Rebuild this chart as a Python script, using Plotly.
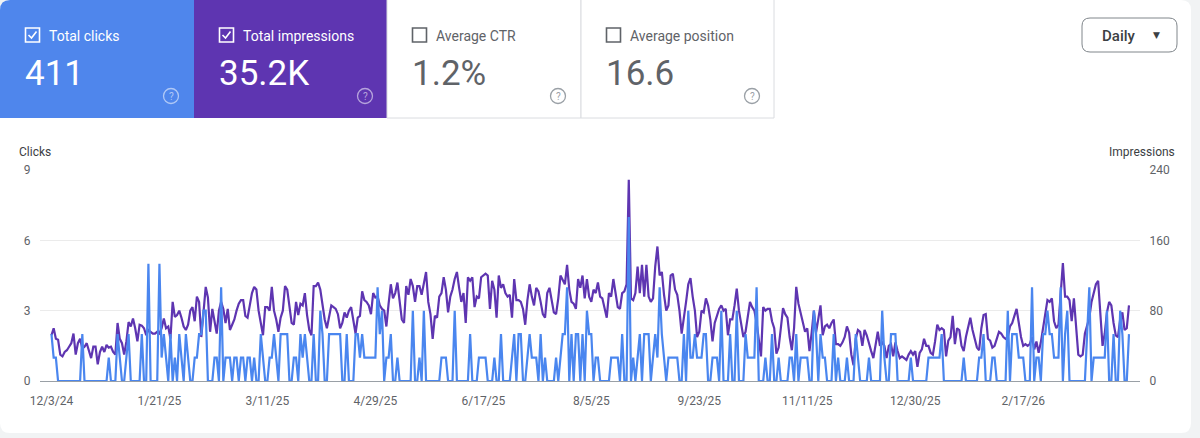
import plotly.graph_objects as go
import pandas as pd

# ---------------- data (daily, starting 12/3/24) ----------------
impressions = [
    52, 60, 48, 47, 30, 28, 33, 35, 39, 43, 54, 30, 43, 48, 37, 39, 43, 35, 26, 39, 39, 19, 33, 39, 33,
    41, 38, 39, 33, 30, 66, 48, 43, 30, 45, 67, 62, 71, 60, 45, 64, 63, 60, 52, 58, 56, 54, 54, 56,
    54, 60, 71, 60, 62, 48, 90, 73, 75, 80, 72, 62, 58, 64, 80, 84, 68, 96, 90, 50, 78, 107, 95, 56, 82,
    70, 54, 80, 90, 82, 66, 82, 58, 64, 70, 80, 88, 92, 92, 74, 72, 86, 100, 107, 104, 80, 64, 52, 84,
    84, 80, 107, 80, 70, 56, 72, 80, 108, 104, 86, 66, 64, 90, 75, 88, 86, 100, 75, 58, 52, 108, 108, 112, 104,
    84, 70, 60, 72, 86, 84, 82, 76, 60, 66, 78, 72, 80, 84, 66, 54, 72, 74, 102, 92, 90, 86, 76, 100,
    95, 96, 86, 82, 80, 62, 88, 110, 94, 100, 112, 88, 70, 66, 108, 98, 116, 108, 90, 108, 108, 98, 110, 124, 90,
    76, 48, 74, 72, 96, 100, 118, 104, 78, 96, 104, 116, 124, 106, 90, 100, 66, 118, 114, 118, 84, 96, 94, 118,
    120, 122, 120, 82, 114, 104, 72, 120, 106, 110, 100, 96, 98, 72, 116, 92, 92, 90, 82, 64, 92, 110, 96, 86, 106,
    102, 90, 76, 72, 100, 106, 92, 78, 76, 94, 120, 114, 110, 132, 104, 90, 88, 82, 116, 106, 120, 94, 116, 96,
    90, 104, 100, 112, 96, 94, 82, 72, 100, 96, 116, 102, 84, 82, 100, 102, 110, 229, 94, 92, 100, 130, 100, 132, 96,
    132, 96, 90, 94, 130, 153, 120, 124, 98, 80, 86, 120, 122, 104, 98, 80, 54, 70, 90, 110, 117, 96, 80, 50,
    56, 80, 78, 94, 86, 70, 45, 66, 74, 82, 86, 80, 82, 52, 70, 70, 86, 105, 80, 64, 50, 56, 72, 90, 84,
    80, 66, 46, 28, 84, 80, 82, 82, 68, 60, 31, 38, 60, 83, 76, 72, 50, 35, 60, 107, 88, 78, 66, 56,
    60, 34, 55, 80, 55, 70, 86, 52, 62, 64, 60, 66, 70, 42, 42, 40, 44, 50, 62, 55, 30, 18, 48, 58, 56,
    40, 58, 52, 42, 34, 26, 40, 56, 40, 44, 40, 26, 40, 42, 28, 44, 34, 26, 28, 26, 24, 30, 34, 30,
    34, 16, 32, 36, 48, 40, 40, 32, 30, 45, 64, 58, 60, 58, 28, 46, 50, 74, 42, 60, 58, 40, 34, 50, 60,
    72, 58, 46, 38, 35, 60, 75, 76, 48, 46, 38, 40, 48, 56, 54, 50, 48, 50, 62, 66, 74, 82, 66, 50,
    40, 42, 40, 42, 50, 36, 45, 32, 44, 60, 80, 92, 90, 94, 68, 60, 64, 96, 134, 96, 96, 92, 68, 94, 62,
    30, 28, 30, 54, 64, 72, 90, 100, 110, 114, 78, 40, 54, 78, 90, 86, 66, 52, 50, 70, 78, 58, 60, 86,
]

clicks = [
    2, 1, 1, 0, 0, 0, 0, 0, 0, 0, 0, 0, 0, 0, 2, 0, 0, 0, 0, 0, 0, 0, 0, 0, 0,
    0, 1, 0, 0, 0, 2, 1, 0, 0, 1, 2, 0, 0, 0, 0, 0, 2, 0, 0, 5, 0, 0, 0, 0,
    5, 1, 2, 1, 0, 2, 0, 1, 0, 2, 1, 0, 2, 1, 0, 0, 1, 1, 2, 2, 3, 3, 0, 0, 0,
    1, 1, 0, 4, 0, 1, 1, 1, 0, 1, 1, 0, 1, 1, 0, 1, 1, 0, 1, 0, 0, 2, 1, 0,
    0, 1, 1, 2, 1, 0, 2, 2, 2, 2, 0, 0, 1, 1, 0, 2, 1, 2, 1, 0, 0, 2, 0, 0, 3,
    2, 0, 0, 2, 2, 2, 2, 2, 2, 0, 0, 2, 0, 0, 0, 2, 2, 1, 2, 1, 1, 1, 1, 1,
    1, 4, 2, 3, 0, 1, 1, 2, 0, 0, 1, 0, 0, 0, 0, 0, 0, 3, 0, 0, 1, 0, 3, 0, 0,
    0, 0, 0, 0, 0, 1, 1, 1, 0, 0, 0, 3, 0, 0, 0, 0, 0, 0, 2, 0, 0, 0, 1, 1,
    1, 1, 0, 0, 0, 1, 0, 0, 2, 0, 0, 0, 0, 1, 2, 0, 2, 2, 0, 0, 1, 2, 1, 1, 1,
    0, 2, 0, 1, 0, 0, 0, 0, 1, 0, 1, 2, 2, 4, 0, 2, 0, 2, 2, 0, 2, 0, 3, 2,
    2, 0, 1, 1, 0, 0, 0, 0, 0, 1, 1, 1, 1, 0, 2, 0, 0, 7, 0, 1, 0, 1, 2, 0, 2,
    2, 2, 0, 1, 2, 1, 4, 2, 1, 0, 1, 1, 1, 1, 1, 0, 0, 2, 0, 3, 1, 1, 2, 1,
    1, 1, 2, 2, 0, 0, 1, 1, 1, 0, 3, 0, 0, 0, 2, 0, 0, 3, 0, 0, 0, 2, 1, 1, 1,
    1, 4, 0, 0, 0, 1, 0, 0, 2, 0, 0, 1, 0, 0, 0, 0, 1, 1, 0, 2, 0, 1, 1, 1,
    1, 0, 0, 3, 2, 0, 2, 1, 1, 0, 0, 0, 2, 0, 1, 0, 0, 0, 1, 0, 0, 0, 2, 1, 0,
    0, 0, 0, 1, 0, 0, 0, 0, 0, 3, 1, 0, 0, 2, 2, 2, 0, 0, 0, 0, 0, 0, 1, 0,
    0, 0, 0, 0, 0, 0, 1, 1, 1, 1, 1, 1, 2, 0, 0, 0, 0, 0, 0, 0, 0, 0, 1, 0, 0,
    0, 0, 0, 0, 1, 1, 2, 0, 0, 0, 1, 1, 0, 0, 0, 0, 0, 3, 0, 2, 2, 2, 1, 1,
    1, 0, 0, 0, 4, 0, 1, 1, 0, 2, 2, 3, 2, 2, 1, 1, 1, 4, 0, 2, 3, 0, 0, 0, 0,
    0, 0, 0, 0, 2, 4, 0, 1, 1, 1, 1, 1, 1, 3, 0, 0, 2, 0, 0, 3, 2, 0, 0, 2,
]

start_date = "2024-12-03"
tick_labels = ["12/3/24", "1/21/25", "3/11/25", "4/29/25", "6/17/25",
               "8/5/25", "9/23/25", "11/11/25", "12/30/25", "2/17/26"]

card_titles = ["Total clicks", "Total impressions", "Average CTR", "Average position"]
card_values = ["411", "35.2K", "1.2%", "16.6"]
card_checked = [True, True, False, False]

# ---------------- colours ----------------
BLUE = "#4a86ef"
PURPLE = "#5e35b1"
CARD_BLUE = "#4f86ec"
GRAY_TXT = "#5f6368"
FONT = "Roboto"

dates = pd.date_range(start_date, periods=len(clicks), freq="D")
tick_dates = pd.to_datetime(tick_labels, format="%m/%d/%y")

# ---------------- pixel -> paper helpers ----------------
W, H = 1200, 438
L, R, T, B = 40, 1140, 170, 381


def px(x):
    return (x - L) / (R - L)


def py(y):
    return (B - y) / (B - T)


def rrect_path(x0, y0, x1, y1, r, corners=(True, True, True, True)):
    # corners: tl, tr, br, bl
    tl, tr, br, bl = corners
    p = []
    p.append(f"M {px(x0 + (r if tl else 0))},{py(y0)}")
    p.append(f"L {px(x1 - (r if tr else 0))},{py(y0)}")
    if tr:
        p.append(f"Q {px(x1)},{py(y0)} {px(x1)},{py(y0 + r)}")
    p.append(f"L {px(x1)},{py(y1 - (r if br else 0))}")
    if br:
        p.append(f"Q {px(x1)},{py(y1)} {px(x1 - r)},{py(y1)}")
    p.append(f"L {px(x0 + (r if bl else 0))},{py(y1)}")
    if bl:
        p.append(f"Q {px(x0)},{py(y1)} {px(x0)},{py(y1 - r)}")
    p.append(f"L {px(x0)},{py(y0 + (r if tl else 0))}")
    if tl:
        p.append(f"Q {px(x0)},{py(y0)} {px(x0 + r)},{py(y0)}")
    p.append("Z")
    return " ".join(p)


fig = go.Figure()

fig.add_trace(go.Scatter(
    x=dates, y=impressions, mode="lines", name="Impressions",
    line=dict(color=PURPLE, width=2.2), yaxis="y", hoverinfo="skip"))
fig.add_trace(go.Scatter(
    x=dates, y=clicks, mode="lines", name="Clicks",
    line=dict(color=BLUE, width=2.2), yaxis="y2", hoverinfo="skip"))

shapes = []
annotations = []

# panel
shapes.append(dict(type="path", xref="paper", yref="paper", layer="below",
                   path=rrect_path(0, 0, 1191, 433, 10),
                   fillcolor="white", line=dict(width=0)))

# cards
card_x = [0, 194, 387, 581, 774]
shapes.append(dict(type="path", xref="paper", yref="paper", layer="below",
                   path=rrect_path(0, 0, 194, 118, 10, (True, False, False, False)),
                   fillcolor=CARD_BLUE, line=dict(width=0)))
shapes.append(dict(type="rect", xref="paper", yref="paper", layer="below",
                   x0=px(194), x1=px(387), y0=py(0), y1=py(118),
                   fillcolor=PURPLE, line=dict(width=0)))
for i in (2, 3):
    shapes.append(dict(type="rect", xref="paper", yref="paper", layer="below",
                       x0=px(card_x[i]), x1=px(card_x[i + 1]), y0=py(-2), y1=py(118),
                       fillcolor="white", line=dict(color="#dadce0", width=1)))

for i in range(4):
    x0 = card_x[i]
    on_color = i < 2
    txt_col = "white" if on_color else GRAY_TXT
    box_col = "white" if on_color else "#5f6368"
    # checkbox
    shapes.append(dict(type="rect", xref="paper", yref="paper",
                       x0=px(x0 + 25.5), x1=px(x0 + 39.5), y0=py(28), y1=py(42),
                       line=dict(color=box_col, width=1.6), fillcolor="rgba(0,0,0,0)"))
    if card_checked[i]:
        shapes.append(dict(type="path", xref="paper", yref="paper",
                           path=f"M {px(x0 + 28.5)},{py(35)} L {px(x0 + 31.5)},{py(38)} L {px(x0 + 36.5)},{py(31.5)}",
                           line=dict(color="white", width=1.6)))
    # title
    annotations.append(dict(xref="paper", yref="paper", x=px(x0 + 47), y=py(35.5),
                            xanchor="left", yanchor="middle", showarrow=False,
                            text=card_titles[i], font=dict(family=FONT, size=14, color=txt_col)))
    # value
    annotations.append(dict(xref="paper", yref="paper", x=px(x0 + 23), y=py(73),
                            xanchor="left", yanchor="middle", showarrow=False,
                            text=card_values[i], font=dict(family=FONT, size=35, color=txt_col)))
    # help icon
    hc = "rgba(255,255,255,0.55)" if on_color else "#9aa0a6"
    cx, cy = x0 + 171, 96
    shapes.append(dict(type="circle", xref="paper", yref="paper",
                       x0=px(cx - 7.5), x1=px(cx + 7.5), y0=py(cy - 7.5), y1=py(cy + 7.5),
                       line=dict(color=hc, width=1.3)))
    annotations.append(dict(xref="paper", yref="paper", x=px(cx), y=py(cy + 0.5),
                            xanchor="center", yanchor="middle", showarrow=False,
                            text="?", font=dict(family=FONT, size=10, color=hc)))

# Daily dropdown
shapes.append(dict(type="path", xref="paper", yref="paper",
                   path=rrect_path(1082, 18, 1177, 52, 8),
                   fillcolor="white", line=dict(color="#80868b", width=1)))
annotations.append(dict(xref="paper", yref="paper", x=px(1100), y=py(35.5),
                        xanchor="left", yanchor="middle", showarrow=False,
                        text="Daily", font=dict(family=FONT, size=15, color="#3c4043", weight=500)))
annotations.append(dict(xref="paper", yref="paper", x=px(1156), y=py(35),
                        xanchor="center", yanchor="middle", showarrow=False,
                        text="▼", font=dict(family="DejaVu Sans", size=9, color="#3c4043")))

# axis titles
annotations.append(dict(xref="paper", yref="paper", x=px(17), y=py(152),
                        xanchor="left", yanchor="middle", showarrow=False,
                        text="Clicks", font=dict(family=FONT, size=12, color="#3c4043")))
annotations.append(dict(xref="paper", yref="paper", x=px(1177), y=py(152),
                        xanchor="right", yanchor="middle", showarrow=False,
                        text="Impressions", font=dict(family=FONT, size=12, color="#3c4043")))

day = pd.Timedelta(days=1)
fig.update_layout(
    width=W, height=H,
    margin=dict(l=L, r=W - R, t=T, b=H - B, pad=0),
    paper_bgcolor="#f1f3f4",
    plot_bgcolor="rgba(0,0,0,0)",
    showlegend=False,
    font=dict(family=FONT, size=12, color=GRAY_TXT),
    xaxis=dict(
        range=[dates[0] - 5.2 * day, dates[0] + 494 * day],
        tickvals=tick_dates, ticktext=tick_labels,
        showgrid=False, zeroline=False,
        showline=True, linecolor="#9aa0a6", linewidth=1,
        ticks="outside", ticklen=9, tickcolor="rgba(0,0,0,0)",
        tickfont=dict(family=FONT, size=12, color=GRAY_TXT),
    ),
    yaxis=dict(
        side="right", range=[0, 240], tickvals=[0, 80, 160, 240],
        showgrid=True, gridcolor="#ebebeb", gridwidth=1, zeroline=False,
        ticks="outside", ticklen=6, tickcolor="rgba(0,0,0,0)",
        tickfont=dict(family=FONT, size=12, color=GRAY_TXT),
    ),
    yaxis2=dict(
        side="left", overlaying="y", range=[0, 9], tickvals=[0, 3, 6, 9],
        showgrid=False, zeroline=False,
        ticks="outside", ticklen=6, tickcolor="rgba(0,0,0,0)",
        tickfont=dict(family=FONT, size=12, color=GRAY_TXT),
    ),
    shapes=shapes,
    annotations=annotations,
)

fig.write_html("out.html", config={"displayModeBar": False},
               post_script="document.body.style.margin='0';document.body.style.overflow='hidden';")
